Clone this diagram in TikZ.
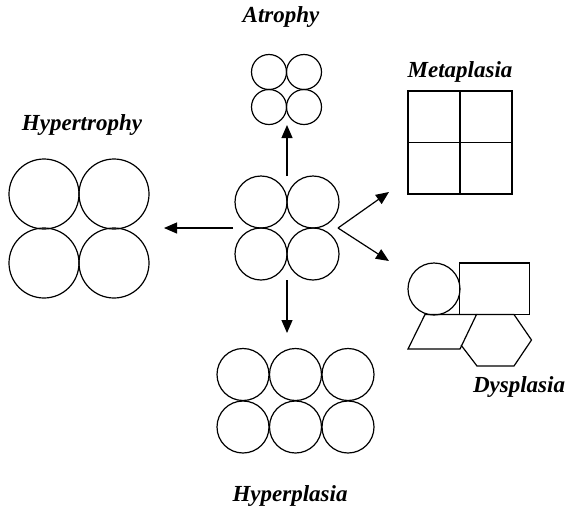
\documentclass[tikz,border=0pt]{standalone}
\usepackage{fontspec}
\setmainfont{Liberation Serif}
\usetikzlibrary{arrows.meta,shapes.geometric}
\begin{document}
\begin{tikzpicture}[x=1pt,y=-1pt,
  ln/.style={line width=1.2pt},
  cell/.style={circle,draw,line width=1.2pt,inner sep=0pt,minimum size=#1},
  lbl/.style={font=\fontsize{23}{27}\selectfont\bfseries\itshape,inner sep=0pt},
  arr/.style={line width=1.2pt,-{Triangle[length=13pt,width=11pt]}}]
\useasboundingbox (0,0) rectangle (567,507);
% center
\node[cell=52pt] (c1) at (261,202) {};
\node[cell=52pt] (c2) at (313,202) {};
\node[cell=52pt] (c3) at (261,254) {};
\node[cell=52pt] (c4) at (313,254) {};
% atrophy
\node[cell=35pt] (a1) at (269,72) {};
\node[cell=35pt] (a2) at (304,72) {};
\node[cell=35pt] (a3) at (269,107) {};
\node[cell=35pt] (a4) at (304,107) {};
\node[lbl] (la) at (281,17) {Atrophy};
% hypertrophy
\node[cell=70pt] (h1) at (44,194) {};
\node[cell=70pt] (h2) at (114,194) {};
\node[cell=70pt] (h3) at (44,263) {};
\node[cell=70pt] (h4) at (114,263) {};
\node[lbl] (lh) at (82,125) {Hypertrophy};
% hyperplasia
\node[cell=52pt] (p1) at (243,374.5) {};
\node[cell=52pt] (p2) at (295.5,374.5) {};
\node[cell=52pt] (p3) at (348,374.5) {};
\node[cell=52pt] (p4) at (243,427) {};
\node[cell=52pt] (p5) at (295.5,427) {};
\node[cell=52pt] (p6) at (348,427) {};
\node[lbl] (lp) at (290,496) {Hyperplasia};
% metaplasia
\draw[ln] (408,91) rectangle (512,194);
\draw[ln] (460,91) -- (460,194);
\draw[ln] (408,142.5) -- (512,142.5);
\node[lbl] (lm) at (460,72) {Metaplasia};
% dysplasia
\node[cell=52pt] (d1) at (434,289) {};
\draw[ln] (459.5,263) rectangle (529.5,314.5);
\draw[ln] (425,314.5) -- (476.5,314.5) -- (460,349) -- (408,349) -- cycle;
\draw[ln] (476.5,314.5) -- (514,314.5) -- (531.5,340) -- (514,366) -- (477,366) -- (461,345);
\node[lbl] (ld) at (519,387) {Dysplasia};
% arrows
\coordinate (up0) at (287,176);
\coordinate (up1) at (287,125);
\coordinate (dn0) at (287,280);
\coordinate (dn1) at (287,333);
\coordinate (lf0) at (233,228);
\coordinate (lf1) at (164,228);
\coordinate (apex) at (338,228);
\coordinate (ru) at (389,192);
\coordinate (rd) at (389,261);
\draw[arr] (up0) -- (up1);
\draw[arr] (dn0) -- (dn1);
\draw[arr] (lf0) -- (lf1);
\draw[arr] (apex) -- (ru);
\draw[arr] (apex) -- (rd);
\end{tikzpicture}
\end{document}
